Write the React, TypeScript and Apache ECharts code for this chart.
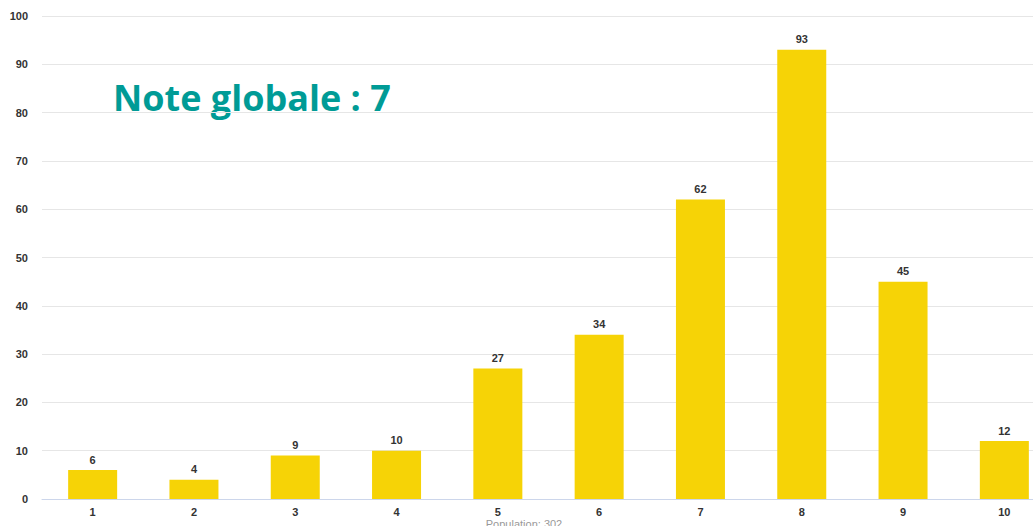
import React, { useEffect, useRef } from "react";
import * as echarts from "echarts";

const categories = ["1", "2", "3", "4", "5", "6", "7", "8", "9", "10"];
const counts = [6, 4, 9, 10, 27, 34, 62, 93, 45, 12];
const titleText = "Note globale : 7";
const populationText = "Population: 302";

export default function App() {
  const ref = useRef<HTMLDivElement>(null);
  useEffect(() => {
    if (!ref.current) return;
    const chart = echarts.init(ref.current, undefined, { renderer: "svg" });
    chart.setOption({
      animation: false,
      grid: { left: 42, right: 0, top: 16, bottom: 27, containLabel: false },
      xAxis: {
        type: "category",
        data: categories,
        axisLine: { lineStyle: { color: "#ccd6eb", width: 1 } },
        axisTick: { show: false },
        axisLabel: {
          color: "#333",
          fontWeight: "bold",
          fontSize: 11,
          fontFamily: "Arial, Liberation Sans, sans-serif",
          margin: 7,
        },
      },
      yAxis: {
        type: "value",
        min: 0,
        max: 100,
        interval: 10,
        axisLine: { show: false },
        axisTick: { show: false },
        splitLine: { lineStyle: { color: "#e6e6e6", width: 1 } },
        axisLabel: {
          color: "#333",
          fontWeight: "bold",
          fontSize: 11,
          fontFamily: "Arial, Liberation Sans, sans-serif",
          margin: 14,
        },
      },
      series: [
        {
          type: "bar",
          data: counts,
          barWidth: 49,
          itemStyle: { color: "#f6d306" },
          label: {
            show: true,
            position: "top",
            distance: 5,
            color: "#333",
            fontWeight: "bold",
            fontSize: 11,
            fontFamily: "Arial, Liberation Sans, sans-serif",
          },
        },
      ],
      graphic: [
        {
          type: "text",
          x: 113,
          y: 97,
          style: {
            text: titleText,
            fill: "#009b96",
            fontSize: 36,
            fontWeight: "bold",
            fontFamily: "Open Sans, Lato, sans-serif",
            textAlign: "left",
            textVerticalAlign: "middle",
          },
        },
        {
          type: "text",
          x: 524,
          y: 524,
          style: {
            text: populationText,
            fill: "#999",
            fontSize: 11,
            fontFamily: "Arial, Liberation Sans, sans-serif",
            textAlign: "center",
            textVerticalAlign: "middle",
          },
        },
      ],
    });
    return () => chart.dispose();
  }, []);
  return (
    <div style={{ position: "absolute", left: 0, top: 0, width: 1033, height: 526, overflow: "hidden" }}>
      <div ref={ref} style={{ width: 1055, height: 526 }} />
    </div>
  );
}
